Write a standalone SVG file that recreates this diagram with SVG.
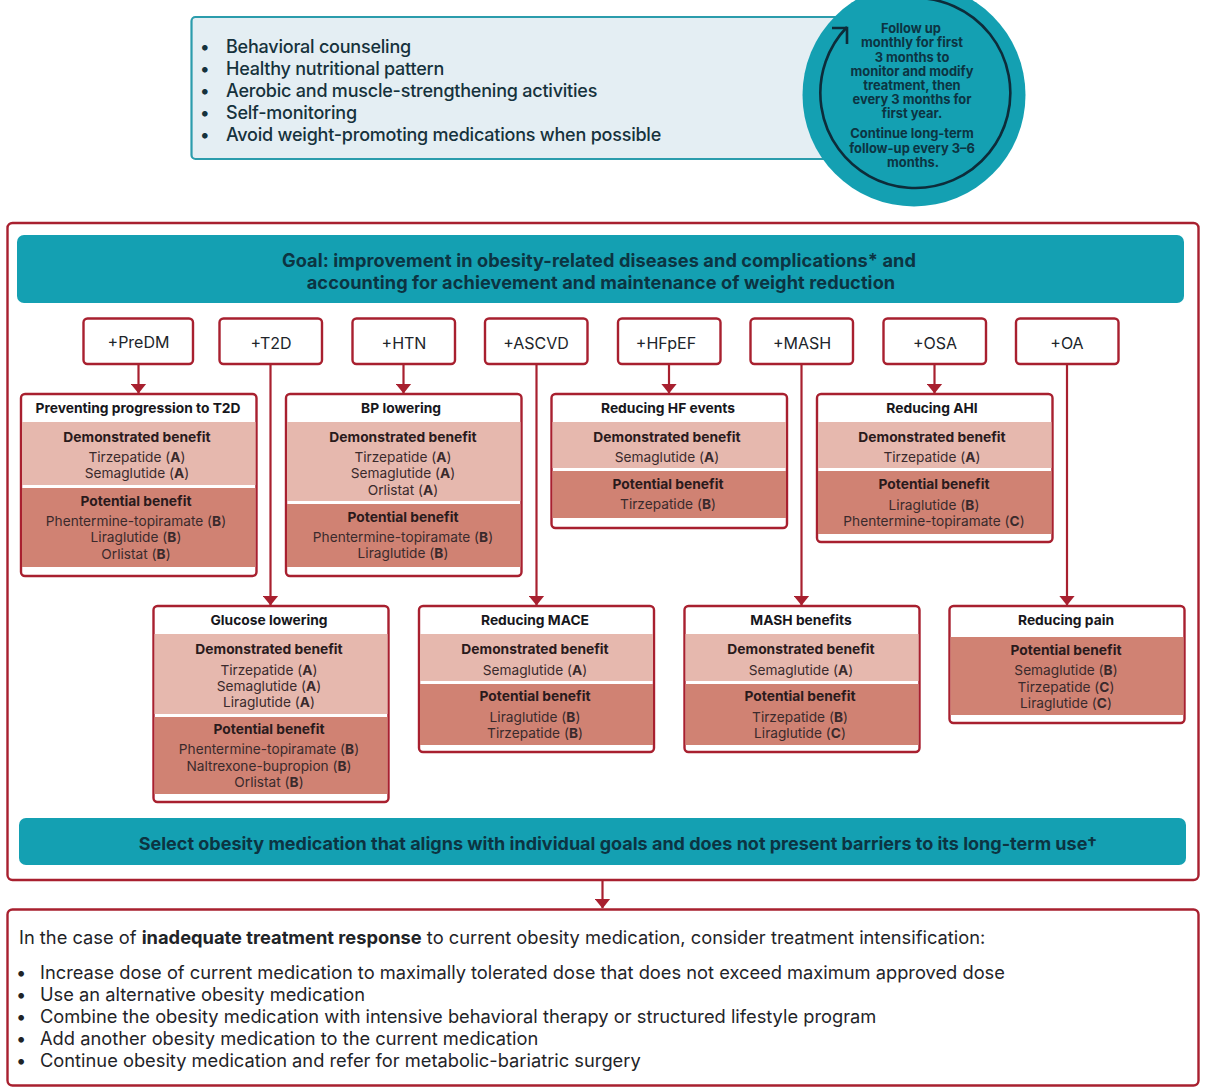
<svg xmlns="http://www.w3.org/2000/svg" width="1207" height="1090" viewBox="0 0 1207 1090">
<defs>
<style>
text{font-family:Inter,"Liberation Sans",sans-serif;fill:#1d2a33}
.c{text-anchor:middle}
.frame{fill:#fff;stroke:#a8202f;stroke-width:2.4}
.card{fill:#fff;stroke:#a8202f;stroke-width:2.4}
.bar{fill:#14a0b2}
.l{fill:#e6b8ae}
.d{fill:#d08273}
.h{font-size:13.8px;font-weight:700;fill:#17171c}
.b{font-size:13.8px;font-weight:700;fill:#2a1a1c}
.t{font-size:13.7px;font-weight:400;fill:#3a2a2c}
.t tspan{font-weight:700}
.pill{font-size:16px;fill:#20242a}
.top{font-size:18px;font-weight:500;fill:#16323c;letter-spacing:-.22px}
.bar-t{font-size:18.2px;font-weight:700;fill:#0c3442;letter-spacing:.08px}
.sel{font-size:18px;letter-spacing:0}
.fu{font-size:12.9px;font-weight:700;fill:#0c3442}
.low{font-size:18.3px;fill:#1f2428}
.low tspan{font-weight:700}
.conn{fill:none;stroke:#a8202f;stroke-width:2.2}
</style>
<marker id="ah" viewBox="0 0 10 16" refX="9.500" refY="8" markerWidth="10" markerHeight="16" markerUnits="userSpaceOnUse" orient="auto"><path d="M0 0L10 8L0 16Z" fill="#a8202f"/></marker>
</defs>
<rect width="1207" height="1090" fill="#fff"/>

<g id="lifestyle">
<rect x="191.500" y="17" width="690" height="142" rx="4" fill="#e4eef3" stroke="#2b9cac" stroke-width="2.200"/>
<text class="top" x="226" y="53">Behavioral counseling</text>
<text class="top" x="226" y="75">Healthy nutritional pattern</text>
<text class="top" x="226" y="97">Aerobic and muscle-strengthening activities</text>
<text class="top" x="226" y="119">Self-monitoring</text>
<text class="top" x="226" y="141">Avoid weight-promoting medications when possible</text>
<text class="top" x="200" y="53">•</text>
<text class="top" x="200" y="75">•</text>
<text class="top" x="200" y="97">•</text>
<text class="top" x="200" y="119">•</text>
<text class="top" x="200" y="141">•</text>
</g>

<g id="follow-up">
<circle cx="914" cy="95" r="111.500" fill="#14a0b2"/>
<path d="M914 -2A95 95 0 1 1 847 27" fill="none" stroke="#0d2c3a" stroke-width="2.600"/>
<path d="M832 28H847V44" fill="none" stroke="#0d2c3a" stroke-width="2.600"/>
<text class="fu c" x="911" y="33">Follow up</text>
<text class="fu c" x="912" y="47">monthly for first</text>
<text class="fu c" x="912" y="62">3 months to</text>
<text class="fu c" x="912" y="76">monitor and modify</text>
<text class="fu c" x="912" y="90">treatment, then</text>
<text class="fu c" x="912" y="104">every 3 months for</text>
<text class="fu c" x="912" y="118">first year.</text>
<text class="fu c" x="912" y="138">Continue long-term</text>
<text class="fu c" x="912" y="153">follow-up every 3–6</text>
<text class="fu c" x="913" y="167">months.</text>
</g>

<g id="goal-panel">
<rect class="frame" x="7.500" y="223" width="1191" height="657" rx="5"/>
<rect class="bar" x="17" y="235" width="1167" height="68" rx="7"/>
<text class="bar-t c" x="599" y="267">Goal: improvement in obesity-related diseases and complications* and</text>
<text class="bar-t c" x="601" y="289">accounting for achievement and maintenance of weight reduction</text>
<rect class="bar" x="19" y="818" width="1167" height="47" rx="7"/>
<text class="bar-t sel c" x="618" y="850">Select obesity medication that aligns with individual goals and does not present barriers to its long-term use†</text>
</g>

<g id="connectors">
<path class="conn" d="M138.500 364V393" marker-end="url(#ah)"/>
<path class="conn" d="M270.500 364V605" marker-end="url(#ah)"/>
<path class="conn" d="M403.500 364V393" marker-end="url(#ah)"/>
<path class="conn" d="M536.500 364V605" marker-end="url(#ah)"/>
<path class="conn" d="M669 364V393" marker-end="url(#ah)"/>
<path class="conn" d="M801.500 364V605" marker-end="url(#ah)"/>
<path class="conn" d="M934.500 364V393" marker-end="url(#ah)"/>
<path class="conn" d="M1067 364V605" marker-end="url(#ah)"/>
<path class="conn" d="M602.500 880V908" marker-end="url(#ah)"/>
</g>

<g id="pill-predm"><rect class="card" x="83.500" y="318.500" width="109.500" height="45.500" rx="4"/><text class="pill c" x="138.500" y="348">+PreDM</text></g>
<g id="pill-t2d"><rect class="card" x="219.500" y="318.500" width="102.500" height="45.500" rx="4"/><text class="pill c" x="271" y="348.500">+T2D</text></g>
<g id="pill-htn"><rect class="card" x="352.500" y="318.500" width="102.500" height="45.500" rx="4"/><text class="pill c" x="404" y="348.500">+HTN</text></g>
<g id="pill-ascvd"><rect class="card" x="485" y="318.500" width="102.500" height="45.500" rx="4"/><text class="pill c" x="536" y="348.500">+ASCVD</text></g>
<g id="pill-hfpef"><rect class="card" x="618" y="318.500" width="102.500" height="45.500" rx="4"/><text class="pill c" x="666" y="348.500">+HFpEF</text></g>
<g id="pill-mash"><rect class="card" x="750.500" y="318.500" width="102.500" height="45.500" rx="4"/><text class="pill c" x="802" y="348.500">+MASH</text></g>
<g id="pill-osa"><rect class="card" x="883.500" y="318.500" width="102.500" height="45.500" rx="4"/><text class="pill c" x="935" y="348.500">+OSA</text></g>
<g id="pill-oa"><rect class="card" x="1016" y="318.500" width="102.500" height="45.500" rx="4"/><text class="pill c" x="1067" y="348.500">+OA</text></g>

<g id="card-t2d-prevention">
<rect class="card" x="21" y="394" width="235.500" height="182" rx="4"/>
<rect class="l" x="22" y="422" width="233.500" height="63"/><rect class="d" x="22" y="488" width="233.500" height="79"/>
<text class="h c" x="138" y="413">Preventing progression to T2D</text>
<text class="b c" x="137" y="442">Demonstrated benefit</text>
<text class="t c" x="137" y="462">Tirzepatide (<tspan>A</tspan>)</text>
<text class="t c" x="137" y="478">Semaglutide (<tspan>A</tspan>)</text>
<text class="b c" x="136" y="506">Potential benefit</text>
<text class="t c" x="136" y="526">Phentermine-topiramate (<tspan>B</tspan>)</text>
<text class="t c" x="136" y="542">Liraglutide (<tspan>B</tspan>)</text>
<text class="t c" x="136" y="559">Orlistat (<tspan>B</tspan>)</text>
</g>

<g id="card-bp">
<rect class="card" x="286" y="394" width="235.500" height="182" rx="4"/>
<rect class="l" x="287" y="422" width="233.500" height="79"/><rect class="d" x="287" y="504" width="233.500" height="63"/>
<text class="h c" x="401" y="413">BP lowering</text>
<text class="b c" x="403" y="442">Demonstrated benefit</text>
<text class="t c" x="403" y="462">Tirzepatide (<tspan>A</tspan>)</text>
<text class="t c" x="403" y="478">Semaglutide (<tspan>A</tspan>)</text>
<text class="t c" x="403" y="495">Orlistat (<tspan>A</tspan>)</text>
<text class="b c" x="403" y="522">Potential benefit</text>
<text class="t c" x="403" y="542">Phentermine-topiramate (<tspan>B</tspan>)</text>
<text class="t c" x="403" y="558">Liraglutide (<tspan>B</tspan>)</text>
</g>

<g id="card-hf">
<rect class="card" x="551.500" y="394" width="235.500" height="134" rx="4"/>
<rect class="l" x="552.500" y="422" width="233.500" height="46"/><rect class="d" x="552.500" y="471" width="233.500" height="47"/>
<text class="h c" x="668" y="413">Reducing HF events</text>
<text class="b c" x="667" y="442">Demonstrated benefit</text>
<text class="t c" x="667" y="462">Semaglutide (<tspan>A</tspan>)</text>
<text class="b c" x="668" y="489">Potential benefit</text>
<text class="t c" x="668" y="509">Tirzepatide (<tspan>B</tspan>)</text>
</g>

<g id="card-ahi">
<rect class="card" x="817" y="394" width="235.500" height="148" rx="4"/>
<rect class="l" x="818" y="422" width="233.500" height="46"/><rect class="d" x="818" y="471" width="233.500" height="63"/>
<text class="h c" x="932" y="413">Reducing AHI</text>
<text class="b c" x="932" y="442">Demonstrated benefit</text>
<text class="t c" x="932" y="462">Tirzepatide (<tspan>A</tspan>)</text>
<text class="b c" x="934" y="489">Potential benefit</text>
<text class="t c" x="934" y="510">Liraglutide (<tspan>B</tspan>)</text>
<text class="t c" x="934" y="526">Phentermine-topiramate (<tspan>C</tspan>)</text>
</g>

<g id="card-glucose">
<rect class="card" x="153.500" y="606" width="235" height="196" rx="4"/>
<rect class="l" x="154.500" y="634" width="233" height="80"/><rect class="d" x="154.500" y="717" width="233" height="77"/>
<text class="h c" x="269" y="625">Glucose lowering</text>
<text class="b c" x="269" y="654">Demonstrated benefit</text>
<text class="t c" x="269" y="675">Tirzepatide (<tspan>A</tspan>)</text>
<text class="t c" x="269" y="691">Semaglutide (<tspan>A</tspan>)</text>
<text class="t c" x="269" y="707">Liraglutide (<tspan>A</tspan>)</text>
<text class="b c" x="269" y="734">Potential benefit</text>
<text class="t c" x="269" y="754">Phentermine-topiramate (<tspan>B</tspan>)</text>
<text class="t c" x="269" y="771">Naltrexone-bupropion (<tspan>B</tspan>)</text>
<text class="t c" x="269" y="787">Orlistat (<tspan>B</tspan>)</text>
</g>

<g id="card-mace">
<rect class="card" x="419" y="606" width="235" height="146" rx="4"/>
<rect class="l" x="420" y="634" width="233" height="47"/><rect class="d" x="420" y="684" width="233" height="61"/>
<text class="h c" x="535" y="625">Reducing MACE</text>
<text class="b c" x="535" y="654">Demonstrated benefit</text>
<text class="t c" x="535" y="675">Semaglutide (<tspan>A</tspan>)</text>
<text class="b c" x="535" y="701">Potential benefit</text>
<text class="t c" x="535" y="722">Liraglutide (<tspan>B</tspan>)</text>
<text class="t c" x="535" y="738">Tirzepatide (<tspan>B</tspan>)</text>
</g>

<g id="card-mash">
<rect class="card" x="684.500" y="606" width="235" height="146" rx="4"/>
<rect class="l" x="685.500" y="634" width="233" height="47"/><rect class="d" x="685.500" y="684" width="233" height="61"/>
<text class="h c" x="801" y="625">MASH benefits</text>
<text class="b c" x="801" y="654">Demonstrated benefit</text>
<text class="t c" x="801" y="675">Semaglutide (<tspan>A</tspan>)</text>
<text class="b c" x="800" y="701">Potential benefit</text>
<text class="t c" x="800" y="722">Tirzepatide (<tspan>B</tspan>)</text>
<text class="t c" x="800" y="738">Liraglutide (<tspan>C</tspan>)</text>
</g>

<g id="card-pain">
<rect class="card" x="949.500" y="606" width="235" height="117" rx="4"/>
<rect class="d" x="950.500" y="637" width="233" height="78"/>
<text class="h c" x="1066" y="625">Reducing pain</text>
<text class="b c" x="1066" y="655">Potential benefit</text>
<text class="t c" x="1066" y="675">Semaglutide (<tspan>B</tspan>)</text>
<text class="t c" x="1066" y="692">Tirzepatide (<tspan>C</tspan>)</text>
<text class="t c" x="1066" y="708">Liraglutide (<tspan>C</tspan>)</text>
</g>

<g id="intensification">
<rect class="frame" x="7.500" y="909.500" width="1191" height="176" rx="5"/>
<text class="low" x="19" y="944">In the case of <tspan>inadequate treatment response</tspan> to current obesity medication, consider treatment intensification:</text>
<text class="low" x="16" y="979">•</text><text class="low" x="40" y="979">Increase dose of current medication to maximally tolerated dose that does not exceed maximum approved dose</text>
<text class="low" x="16" y="1001">•</text><text class="low" x="40" y="1001">Use an alternative obesity medication</text>
<text class="low" x="16" y="1023">•</text><text class="low" x="40" y="1023">Combine the obesity medication with intensive behavioral therapy or structured lifestyle program</text>
<text class="low" x="16" y="1045">•</text><text class="low" x="40" y="1045">Add another obesity medication to the current medication</text>
<text class="low" x="16" y="1067">•</text><text class="low" x="40" y="1067">Continue obesity medication and refer for metabolic-bariatric surgery</text>
</g>
</svg>
